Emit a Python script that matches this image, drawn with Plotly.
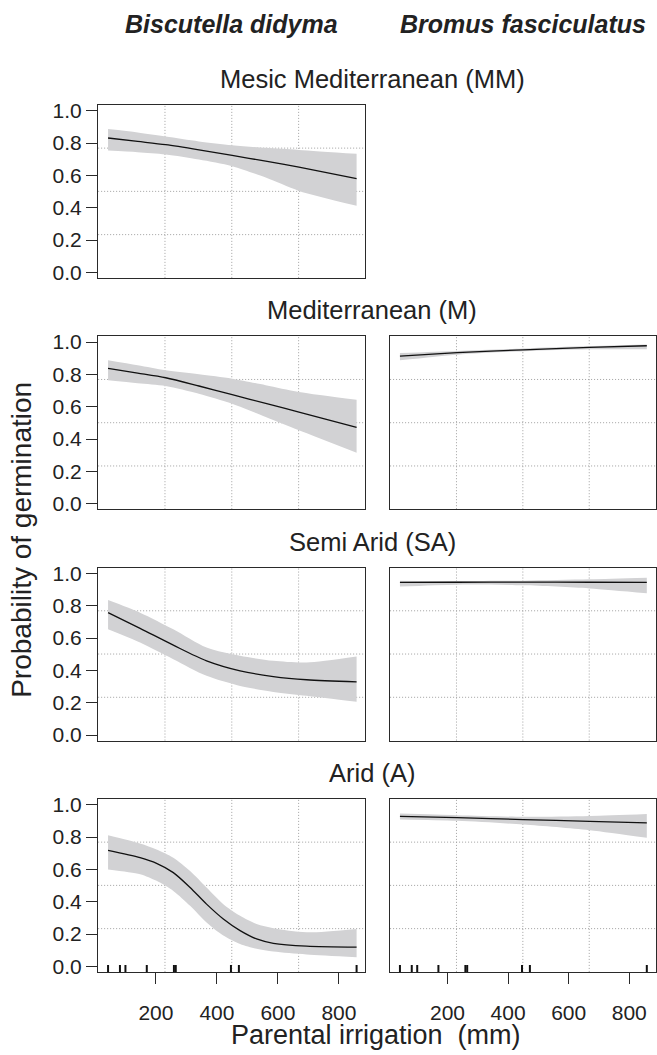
import plotly.graph_objects as go

# ---------------- data ----------------
species = ["Biscutella didyma", "Bromus fasciculatus"]
regions = ["Mesic Mediterranean (MM)", "Mediterranean (M)", "Semi Arid (SA)", "Arid (A)"]

x_tick_vals = [200, 400, 600, 800]
y_tick_vals = [0.0, 0.2, 0.4, 0.6, 0.8, 1.0]
y_tick_text = ["0.0", "0.2", "0.4", "0.6", "0.8", "1.0"]

# Biscutella didyma
bis_x = [43, 140, 232, 341, 450, 560, 669, 858]
bis_mm_fit = [0.831, 0.810, 0.790, 0.758, 0.723, 0.688, 0.651, 0.580]
bis_mm_up = [0.886, 0.865, 0.840, 0.810, 0.786, 0.770, 0.757, 0.733]
bis_mm_lo = [0.753, 0.743, 0.729, 0.698, 0.657, 0.586, 0.504, 0.412]

bis_m_fit = [0.837, 0.808, 0.779, 0.728, 0.674, 0.620, 0.567, 0.472]
bis_m_up = [0.887, 0.856, 0.825, 0.800, 0.773, 0.733, 0.691, 0.643]
bis_m_lo = [0.763, 0.745, 0.728, 0.680, 0.618, 0.536, 0.454, 0.315]

bis_sa_x = [43, 148, 257, 366, 476, 585, 694, 858]
bis_sa_fit = [0.757, 0.660, 0.556, 0.459, 0.397, 0.362, 0.342, 0.329]
bis_sa_up = [0.835, 0.757, 0.654, 0.541, 0.490, 0.459, 0.449, 0.486]
bis_sa_lo = [0.654, 0.572, 0.469, 0.366, 0.304, 0.267, 0.243, 0.206]

bis_a_x = [43, 148, 202, 257, 312, 366, 421, 476, 530, 585, 694, 858]
bis_a_fit = [0.717, 0.672, 0.637, 0.580, 0.488, 0.385, 0.293, 0.221, 0.170, 0.143, 0.125, 0.119]
bis_a_up = [0.811, 0.760, 0.723, 0.672, 0.590, 0.488, 0.385, 0.313, 0.262, 0.236, 0.211, 0.232]
bis_a_lo = [0.600, 0.570, 0.529, 0.467, 0.375, 0.272, 0.191, 0.139, 0.109, 0.092, 0.074, 0.057]

# Bromus fasciculatus
bro_x = [43, 232, 450, 669, 858]
bro_m_fit = [0.913, 0.934, 0.952, 0.967, 0.977]
bro_m_up = [0.932, 0.945, 0.960, 0.975, 0.985]
bro_m_lo = [0.887, 0.922, 0.943, 0.955, 0.955]

bro_sa_fit = [0.944, 0.945, 0.946, 0.945, 0.944]
bro_sa_up = [0.955, 0.953, 0.955, 0.963, 0.973]
bro_sa_lo = [0.918, 0.930, 0.926, 0.907, 0.877]

bro_a_fit = [0.928, 0.920, 0.908, 0.897, 0.887]
bro_a_up = [0.945, 0.935, 0.925, 0.930, 0.942]
bro_a_lo = [0.908, 0.900, 0.877, 0.842, 0.795]

# rug of parental irrigation levels
rug_x = [43, 82, 100, 170, 259, 265, 446, 472, 858]

# ---------------- layout geometry ----------------
W, H = 657, 1055
FONT = "Liberation Sans, Arial, Helvetica, sans-serif"
TXT = "#222222"
BAND = "#d2d2d4"
GRID = "#a0a0a0"
FRAME = "#2a2a2a"

col_px = [(98.3, 366.0), (390.7, 656.6)]
row_top = [100, 334, 568, 802]
ROW_H = 175
XR = [10.5, 887]
YR = [-0.034, 1.036]

# panels: (row, col, x, fit, up, lo)
panels = [
    (0, 0, bis_x, bis_mm_fit, bis_mm_up, bis_mm_lo),
    (1, 0, bis_x, bis_m_fit, bis_m_up, bis_m_lo),
    (1, 1, bro_x, bro_m_fit, bro_m_up, bro_m_lo),
    (2, 0, bis_sa_x, bis_sa_fit, bis_sa_up, bis_sa_lo),
    (2, 1, bro_x, bro_sa_fit, bro_sa_up, bro_sa_lo),
    (3, 0, bis_a_x, bis_a_fit, bis_a_up, bis_a_lo),
    (3, 1, bro_x, bro_a_fit, bro_a_up, bro_a_lo),
]

fig = go.Figure()
layout = dict(
    width=W, height=H,
    margin=dict(l=0, r=0, t=0, b=0),
    paper_bgcolor="white", plot_bgcolor="white",
    showlegend=False,
    font=dict(family=FONT, color=TXT, size=21),
)
shapes = []
annotations = []

for k, (r, c, xs, fit, up, lo) in enumerate(panels, start=1):
    xa = "x" if k == 1 else f"x{k}"
    ya = "y" if k == 1 else f"y{k}"
    x0, x1 = col_px[c]
    top = row_top[r]
    bottom = top + ROW_H
    bottom_row = (r == 3)
    left_col = (c == 0)

    layout["xaxis" if k == 1 else f"xaxis{k}"] = dict(
        domain=[x0 / W, x1 / W], range=XR, anchor=ya,
        showgrid=False, zeroline=False,
        showline=True, mirror=True, linecolor=FRAME, linewidth=1.4,
        ticks="outside" if bottom_row else "", ticklen=11, tickwidth=1.3, tickcolor=FRAME,
        tickvals=x_tick_vals, showticklabels=bottom_row,
        tickfont=dict(size=21, family=FONT, color=TXT),
        ticklabelstandoff=11,
        fixedrange=True,
    )
    layout["yaxis" if k == 1 else f"yaxis{k}"] = dict(
        domain=[1 - bottom / H, 1 - top / H], range=YR, anchor=xa,
        showgrid=False, zeroline=False,
        showline=True, mirror=True, linecolor=FRAME, linewidth=1.4,
        ticks="outside" if left_col else "", ticklen=11, tickwidth=1.3, tickcolor=FRAME,
        tickvals=y_tick_vals, ticktext=y_tick_text, showticklabels=left_col,
        tickfont=dict(size=21, family=FONT, color=TXT),
        ticklabelstandoff=0,
        fixedrange=True,
    )

    # panel-fraction dotted grid
    for f in (0.25, 0.5, 0.75):
        shapes.append(dict(type="line", xref=f"{xa} domain", yref=f"{ya} domain",
                           x0=f, x1=f, y0=0, y1=1, layer="below",
                           line=dict(color=GRID, width=1, dash="1px,2px")))
        shapes.append(dict(type="line", xref=f"{xa} domain", yref=f"{ya} domain",
                           x0=0, x1=1, y0=f, y1=f, layer="below",
                           line=dict(color=GRID, width=1, dash="1px,2px")))

    # confidence band
    fig.add_trace(go.Scatter(x=xs, y=up, xaxis=xa, yaxis=ya, mode="lines",
                             line=dict(width=0, shape="spline", smoothing=0.8),
                             hoverinfo="skip"))
    fig.add_trace(go.Scatter(x=xs, y=lo, xaxis=xa, yaxis=ya, mode="lines",
                             line=dict(width=0, shape="spline", smoothing=0.8),
                             fill="tonexty", fillcolor=BAND, hoverinfo="skip"))
    # fitted line
    fig.add_trace(go.Scatter(x=xs, y=fit, xaxis=xa, yaxis=ya, mode="lines",
                             line=dict(color="#111111", width=1.3, shape="spline", smoothing=0.8)))

    # rug on bottom row
    if bottom_row:
        for rx in rug_x:
            shapes.append(dict(type="line", xref=xa, yref=f"{ya} domain",
                               x0=rx, x1=rx, y0=0, y1=7 / ROW_H,
                               line=dict(color="#111111", width=2)))

# species titles
col_centres = [(a + b) / 2 for a, b in col_px]
for c, sp in enumerate(species):
    annotations.append(dict(text=f"<b><i>{sp}</i></b>", x=col_centres[c] / W, y=1 - 18 / H,
                            xref="paper", yref="paper", xanchor="center", yanchor="middle",
                            showarrow=False, font=dict(size=25, family=FONT, color=TXT)))

# region titles
for r, name in enumerate(regions):
    cy = row_top[r] - 26
    annotations.append(dict(text=name, x=373 / W, y=1 - cy / H,
                            xref="paper", yref="paper", xanchor="center", yanchor="middle",
                            showarrow=False, font=dict(size=25.5, family=FONT, color=TXT)))

# axis titles
annotations.append(dict(text="Parental irrigation  (mm)", x=377 / W, y=1 - 1041 / H,
                        xref="paper", yref="paper", xanchor="center", yanchor="middle",
                        showarrow=False, font=dict(size=27, family=FONT, color=TXT)))
annotations.append(dict(text="Probability of germination", x=22 / W, y=1 - 540 / H,
                        xref="paper", yref="paper", xanchor="center", yanchor="middle",
                        textangle=-90, showarrow=False,
                        font=dict(size=28, family=FONT, color=TXT)))

layout["shapes"] = shapes
layout["annotations"] = annotations
fig.update_layout(**layout)

fig.write_html("out.html", config={"displayModeBar": False},
               post_script="document.body.style.margin='0';document.body.style.overflow='hidden';")
